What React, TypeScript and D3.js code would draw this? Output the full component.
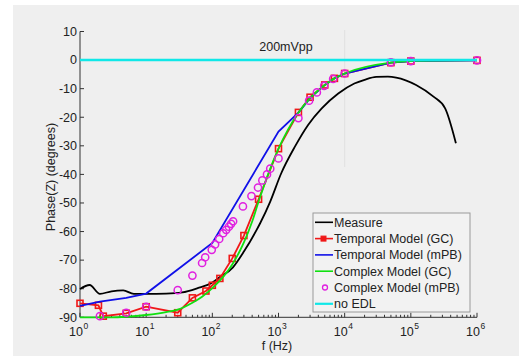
import React from "react";
import * as d3 from "d3";

const W = 519;
const H = 356;

// Measure (black)
const measureF = [1, 1.4, 2, 3, 4.5, 6.5, 10, 20, 35, 60, 100, 120, 205, 300, 465, 530, 750, 1100, 1770, 2800, 4500, 8000, 14000, 20000, 30000, 45000, 60000, 120000, 220000, 330000, 480000];
const measureV = [-80.1, -78.7, -81.8, -80.9, -80.6, -81.8, -81.8, -81.7, -81.3, -79.8, -77.8, -76.5, -72.5, -67, -59.5, -57, -49.5, -39.6, -30.3, -22.7, -16.9, -11.7, -8.2, -6.9, -5.9, -5.8, -6.1, -8.7, -12.8, -16.9, -29.1];

// Temporal Model (GC) (red, square markers)
const tempGCF = [1, 1.9, 2.25, 5, 10, 30, 50, 80, 100, 130, 200, 300, 500, 1000, 2000, 3000, 5000, 7000, 10000, 50000, 100000, 1000000];
const tempGCV = [-85.1, -85.8, -89.6, -88.6, -86.3, -88.4, -83.2, -80.8, -78.8, -76.4, -69.4, -61.4, -48.7, -31, -18.3, -13, -8.7, -6.4, -4.7, -0.9, -0.35, -0.1];

// Temporal Model (mPB) (blue)
const tempMPBF = [1, 2, 5, 10, 100, 1000, 2000, 3000, 5000, 7000, 10000, 50000, 100000, 1000000];
const tempMPBV = [-86, -84.5, -83.2, -81.7, -64, -25, -18.4, -13.3, -8.7, -6.4, -4.7, -0.9, -0.35, -0.1];

// Complex Model (GC) (green)
const compGCF = [1, 2, 3, 5, 10, 20, 30, 50, 70, 100, 150, 200, 260, 300, 400, 500, 700, 1000, 2000, 3000, 5000, 7000, 10000, 50000, 100000, 1000000];
const compGCV = [-90, -90, -90, -89.8, -89.2, -88.2, -87.3, -84.9, -82.8, -79.8, -75.5, -71.5, -66.8, -63.8, -56.5, -49.5, -39.8, -31, -18.4, -13.3, -8.7, -6.4, -4.7, -0.9, -0.35, -0.05];

// Complex Model (mPB) (magenta circles)
const compMPBF = [2, 5, 10, 30, 50, 70, 78, 98, 110, 127, 146, 162, 178, 192, 206, 290, 390, 490, 570, 670, 750, 1000, 2000, 2900, 3800, 4900, 6700, 10000, 50000, 100000, 1000000];
const compMPBV = [-89.6, -88.4, -86.3, -80.5, -75.4, -71, -69, -66.4, -64.5, -62.6, -60.6, -59.4, -58.3, -57.3, -56.4, -51.2, -47.6, -44.6, -42.1, -40, -38, -34.4, -20.3, -14.2, -11.3, -9, -6.6, -4.7, -0.8, -0.35, -0.1];

// no EDL (cyan)
const noEdlF = [1, 1000000];
const noEdlV = [0, 0];

const xTicks = [1, 10, 100, 1000, 10000, 100000, 1000000];
const xTickExp = ["0", "1", "2", "3", "4", "5", "6"];
const yTicks = [10, 0, -10, -20, -30, -40, -50, -60, -70, -80, -90];

const legendLabels = [
  "Measure",
  "Temporal Model (GC)",
  "Temporal Model (mPB)",
  "Complex Model (GC)",
  "Complex Model (mPB)",
  "no EDL",
];

const C = {
  black: "#000000",
  red: "#f01818",
  blue: "#1010e8",
  green: "#10e010",
  magenta: "#e020e0",
  cyan: "#10e8e8",
};

const zip = (fs: number[], vs: number[]) => fs.map((f, i) => [f, vs[i]] as [number, number]);

export default function App() {
  const x = d3.scaleLog().domain([1, 1e6]).range([80, 477]);
  const y = d3.scaleLinear().domain([-90, 10]).range([317.3, 31.5]);

  const lineLin = d3
    .line<[number, number]>()
    .x((d) => x(d[0]))
    .y((d) => y(d[1]));
  const lineSmooth = d3
    .line<[number, number]>()
    .x((d) => x(d[0]))
    .y((d) => y(d[1]))
    .curve(d3.curveMonotoneX);

  const minorTicks: number[] = [];
  for (let e = 0; e < 6; e++) {
    for (let m = 2; m <= 9; m++) minorTicks.push(m * Math.pow(10, e));
  }

  const font = "'Liberation Sans', Arial, Helvetica, sans-serif";
  const x0 = x(1);
  const y0 = y(-90);

  const red = zip(tempGCF, tempGCV);
  const mag = zip(compMPBF, compMPBV);

  const lgX = 313;
  const lgY = 213;
  const lgRow = (i: number) => 222.3 + i * 16.3;

  return (
    <svg
      width={W}
      height={H}
      style={{ position: "absolute", left: 0, top: 0, display: "block" }}
      fontFamily={font}
    >
      <rect x={0} y={0} width={W} height={H} fill="#ffffff" />
      <rect x={13} y={5} width={W - 13} height={H - 5} fill="#efefef" />

      {/* faint vertical line at 10^4 */}
      <line x1={x(1e4)} x2={x(1e4)} y1={30} y2={167} stroke="#e0e0e0" strokeWidth={1} />

      {/* axes */}
      <line x1={x0} x2={x0} y1={y(10)} y2={y0} stroke="#333" strokeWidth={1} />
      <line x1={x0} x2={x(1e6)} y1={y0} y2={y0} stroke="#333" strokeWidth={1} />
      {yTicks.map((t) => (
        <g key={"yt" + t}>
          <line x1={x0} x2={x0 + 4} y1={y(t)} y2={y(t)} stroke="#333" strokeWidth={1} />
          <text x={x0 - 3} y={y(t) + 4.3} fontSize={12.5} textAnchor="end" fill="#222">
            {t}
          </text>
        </g>
      ))}
      {minorTicks.map((t) => (
        <line key={"mt" + t} x1={x(t)} x2={x(t)} y1={y0} y2={y0 - 2.5} stroke="#333" strokeWidth={1} />
      ))}
      {xTicks.map((t, i) => (
        <g key={"xt" + t}>
          <line x1={x(t)} x2={x(t)} y1={y0} y2={y0 - 4.5} stroke="#333" strokeWidth={1} />
          <text x={x(t) + 3} y={335.5} fontSize={12.5} textAnchor="end" fill="#222">
            10
          </text>
          <text x={x(t) + 3.5} y={329} fontSize={8.5} textAnchor="start" fill="#222">
            {xTickExp[i]}
          </text>
        </g>
      ))}
      <text x={277} y={349.5} fontSize={12.5} textAnchor="middle" fill="#222">
        f (Hz)
      </text>
      <text
        transform={`translate(54.5, 177) rotate(-90)`}
        fontSize={12.5}
        textAnchor="middle"
        fill="#222"
      >
        Phase(Z) (degrees)
      </text>
      <text x={286} y={50.5} fontSize={12.5} textAnchor="middle" fill="#222">
        200mVpp
      </text>

      {/* series */}
      <path d={lineSmooth(zip(measureF, measureV)) || ""} fill="none" stroke={C.black} strokeWidth={1.8} />
      <path d={lineLin(red) || ""} fill="none" stroke={C.red} strokeWidth={1.8} />
      {red.map((d, i) => (
        <rect
          key={"rm" + i}
          x={x(d[0]) - 3}
          y={y(d[1]) - 3}
          width={6}
          height={6}
          fill="none"
          stroke={C.red}
          strokeWidth={1.6}
        />
      ))}
      <path d={lineLin(zip(tempMPBF, tempMPBV)) || ""} fill="none" stroke={C.blue} strokeWidth={1.8} />
      <path d={lineSmooth(zip(compGCF, compGCV)) || ""} fill="none" stroke={C.green} strokeWidth={1.8} />
      {mag.map((d, i) => (
        <circle
          key={"mc" + i}
          cx={x(d[0])}
          cy={y(d[1])}
          r={3.6}
          fill="none"
          stroke={C.magenta}
          strokeWidth={1.5}
        />
      ))}
      <path d={lineLin(zip(noEdlF, noEdlV)) || ""} fill="none" stroke={C.cyan} strokeWidth={2.5} />

      {/* legend */}
      <rect x={lgX} y={lgY} width={157} height={99} fill="#f2f2f2" stroke="#9a9a9a" strokeWidth={1} />
      {legendLabels.map((lab, i) => {
        const cy = lgRow(i);
        const colors = [C.black, C.red, C.blue, C.green, C.magenta, C.cyan];
        return (
          <g key={"lg" + i}>
            {i !== 4 && (
              <line x1={315} x2={333} y1={cy} y2={cy} stroke={colors[i]} strokeWidth={i === 5 ? 2.2 : 1.6} />
            )}
            {i === 1 && (
              <rect x={321} y={cy - 2.5} width={5} height={5} fill={C.red} stroke={C.red} strokeWidth={1} />
            )}
            {i === 4 && <circle cx={325} cy={cy} r={2.5} fill="none" stroke={C.magenta} strokeWidth={1.3} />}
            <text x={334} y={cy + 4.4} fontSize={12.5} fill="#222">
              {lab}
            </text>
          </g>
        );
      })}
    </svg>
  );
}
